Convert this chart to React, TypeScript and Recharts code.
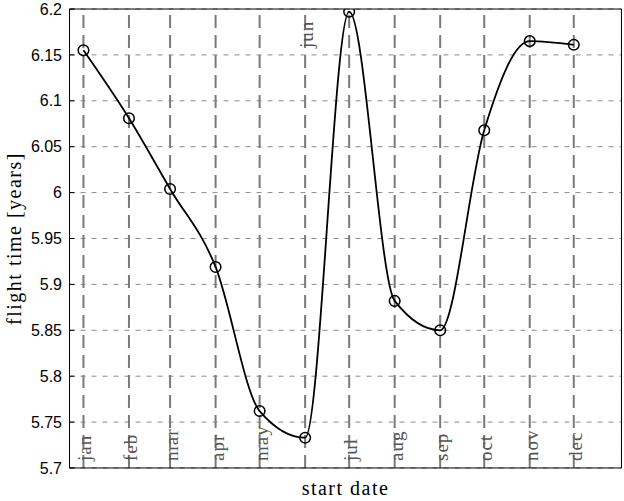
import {
  LineChart,
  Line,
  XAxis,
  YAxis,
  CartesianGrid,
  ReferenceLine,
} from 'recharts'

const months = ['jan', 'feb', 'mar', 'apr', 'may', 'jun', 'jul', 'aug', 'sep', 'oct', 'nov', 'dec']
const monthStartDay = [0, 31, 59, 90, 120, 151, 181, 212, 243, 273, 304, 334]
const flightTime = [6.155, 6.081, 6.004, 5.919, 5.762, 5.733, 6.197, 5.882, 5.85, 6.068, 6.165, 6.161]
const topLabelMonths = ['jun']

const xMajorTicks = [24.5, 74.5, 124.5, 174.5, 224.5, 274.5, 324.5]
const xMinorTicks = [
  -5.5, 4.5, 14.5, 34.5, 44.5, 54.5, 64.5, 84.5, 94.5, 104.5, 114.5, 134.5, 144.5, 154.5, 164.5,
  184.5, 194.5, 204.5, 214.5, 234.5, 244.5, 254.5, 264.5, 284.5, 294.5, 304.5, 314.5, 334.5,
  344.5, 354.5, 364.5,
]
const yMajorTicks = [5.7, 5.75, 5.8, 5.85, 5.9, 5.95, 6, 6.05, 6.1, 6.15, 6.2]
const yMinorTicks = [5.725, 5.775, 5.825, 5.875, 5.925, 5.975, 6.025, 6.075, 6.125, 6.175]

const data = months.map((month, i) => ({
  month,
  day: monthStartDay[i],
  ft: flightTime[i],
}))

const serif = '"Liberation Serif", "Times New Roman", serif'
const sans = '"Liberation Sans", Arial, sans-serif'

// axes are stacked, so keep them (almost) zero sized
const thin = 0.01

// rotated month name, sits at the bottom of the line (or at the top for a few)
const monthLabel = (name: string, atTop: boolean) => (props: any) => {
  const { x, y, height } = props.viewBox
  const tx = x + 8
  const ty = atTop ? y + 39 : y + height - 7
  return (
    <text
      x={tx}
      y={ty}
      transform={`rotate(-90 ${tx} ${ty})`}
      fill="#555"
      fontFamily={serif}
      fontSize={19}
      letterSpacing={1}
    >
      {name}
    </text>
  )
}

const xTitle = (props: any) => {
  const { x, y, width } = props.viewBox
  return (
    <text
      x={x + width / 2}
      y={y + 27}
      textAnchor="middle"
      fill="#000"
      fontFamily={serif}
      fontSize={20}
      letterSpacing={1.5}
    >
      start date
    </text>
  )
}

const yTitle = (props: any) => {
  const { y, height } = props.viewBox
  const tx = 21
  const ty = y + height / 2
  return (
    <text
      x={tx}
      y={ty}
      transform={`rotate(-90 ${tx} ${ty})`}
      textAnchor="middle"
      fill="#000"
      fontFamily={serif}
      fontSize={20}
      letterSpacing={1.5}
    >
      flight time [years]
    </text>
  )
}

export default function App() {
  const xDomain = [-9.5, 366.5]
  const yDomain = [5.7, 6.2]

  return (
    <div style={{ position: 'absolute', left: 0, top: 0, background: '#fff' }}>
      <LineChart
        width={624}
        height={501}
        data={data}
        margin={{ top: 9, right: 2.5, bottom: 33, left: 69.5 }}
      >
        <CartesianGrid stroke="#8a8a8a" strokeDasharray="5 6" />

        <XAxis
          type="number"
          dataKey="day"
          domain={xDomain}
          ticks={xMajorTicks}
          allowDataOverflow
          height={thin}
          tick={false}
          tickSize={-5}
          stroke="#000"
          label={xTitle}
        />
        <XAxis
          xAxisId="bottomMinor"
          type="number"
          dataKey="day"
          domain={xDomain}
          ticks={xMinorTicks}
          allowDataOverflow
          height={thin}
          tick={false}
          tickSize={-3}
          axisLine={false}
          stroke="#000"
        />
        <XAxis
          xAxisId="top"
          orientation="top"
          type="number"
          dataKey="day"
          domain={xDomain}
          ticks={xMajorTicks}
          allowDataOverflow
          height={thin}
          tick={false}
          tickSize={-5}
          stroke="#000"
        />
        <XAxis
          xAxisId="topMinor"
          orientation="top"
          type="number"
          dataKey="day"
          domain={xDomain}
          ticks={xMinorTicks}
          allowDataOverflow
          height={thin}
          tick={false}
          tickSize={-3}
          axisLine={false}
          stroke="#000"
        />

        <YAxis
          type="number"
          domain={yDomain}
          ticks={yMajorTicks}
          allowDataOverflow
          width={thin}
          tickSize={-5}
          tickMargin={12.5}
          stroke="#000"
          tick={{ fill: '#000', fontSize: 16, fontFamily: sans }}
          label={yTitle}
        />
        <YAxis
          yAxisId="leftMinor"
          type="number"
          domain={yDomain}
          ticks={yMinorTicks}
          allowDataOverflow
          width={thin}
          tick={false}
          tickSize={-3}
          axisLine={false}
          stroke="#000"
        />
        <YAxis
          yAxisId="right"
          orientation="right"
          type="number"
          domain={yDomain}
          ticks={yMajorTicks}
          allowDataOverflow
          width={thin}
          tick={false}
          tickSize={-5}
          stroke="#000"
        />
        <YAxis
          yAxisId="rightMinor"
          orientation="right"
          type="number"
          domain={yDomain}
          ticks={yMinorTicks}
          allowDataOverflow
          width={thin}
          tick={false}
          tickSize={-3}
          axisLine={false}
          stroke="#000"
        />

        {months.map((m, i) => (
          <ReferenceLine
            key={m}
            x={monthStartDay[i]}
            stroke="#7a7a7a"
            strokeWidth={2}
            strokeDasharray="13 7"
            label={monthLabel(m, topLabelMonths.includes(m))}
          />
        ))}

        <Line
          type="monotone"
          dataKey="ft"
          stroke="#000"
          strokeWidth={1.8}
          dot={{ r: 5.3, fill: 'none', stroke: '#000', strokeWidth: 1.5 }}
          isAnimationActive={false}
        />
      </LineChart>
    </div>
  )
}
